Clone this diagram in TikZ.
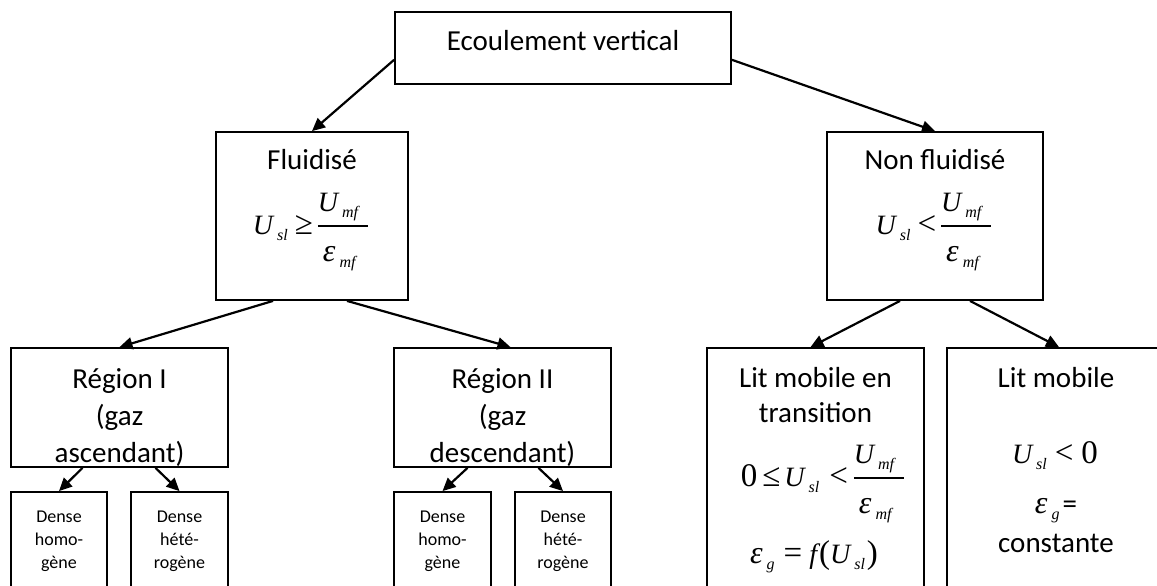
\documentclass[tikz,border=0pt]{standalone}
\usepackage{fontspec}
\setmainfont{Carlito}
\newfontfamily\tnr{Liberation Serif}
\usetikzlibrary{arrows.meta}
\newcommand\mi[1]{{\tnr\itshape #1}}
\newcommand\mr[1]{{\fontsize{33}{33}\selectfont\tnr #1}}
\newcommand\eps{{\fontsize{32}{32}\selectfont\tnr\itshape ε}}
\newcommand\sbs[1]{\kern4pt\raisebox{-6.5pt}{\fontsize{16}{16}\selectfont\tnr\itshape #1}}
\newcommand\frc[2]{%
  \setbox0=\hbox{#1}\setbox2=\hbox{#2}%
  \dimen0=\wd0 \ifdim\wd2>\dimen0 \dimen0=\wd2\fi
  \advance\dimen0 by 10pt
  \hbox{\kern1pt
    \rlap{\raise23pt\hbox to\dimen0{\box0\hss}}%
    \rlap{\raise8pt\hbox{\vrule width\dimen0 height 0.6pt depth 0.6pt}}%
    \lower27pt\hbox to\dimen0{\kern5pt\box2\hss}\kern1pt}}
\tikzset{
  box/.style={draw, line width=1.8pt, inner sep=0pt, rectangle},
  lbl/.style={anchor=base, font=\fontsize{29}{35}\selectfont, inner sep=0pt},
  sml/.style={anchor=base, font=\fontsize{18}{22}\selectfont, inner sep=0pt},
  eq/.style={anchor=base, font=\fontsize{28}{34}\selectfont, inner sep=0pt},
  arr/.style={-{Triangle[length=13pt,width=12pt]}, line width=2.2pt}
}
\begin{document}
\begin{tikzpicture}[x=1pt,y=-1pt]
\useasboundingbox[fill=white] (0,0) rectangle (1157,586);
% boxes
\node[box, minimum width=336pt, minimum height=72pt] (top) at (563,48) {};
\node[box, minimum width=192pt, minimum height=168pt] (flu) at (312,216) {};
\node[box, minimum width=216pt, minimum height=168pt] (nonflu) at (935,216) {};
\node[box, minimum width=217pt, minimum height=119pt] (r1) at (119.5,407.5) {};
\node[box, minimum width=217pt, minimum height=119pt] (r2) at (502.5,407.5) {};
\node[box, minimum width=217pt, minimum height=252pt] (lt) at (815.5,474) {};
\node[box, minimum width=218pt, minimum height=252pt] (lm) at (1056,474) {};
\node[box, minimum width=96pt, minimum height=108pt] (d1) at (59,546) {};
\node[box, minimum width=97pt, minimum height=108pt] (d2) at (179.5,546) {};
\node[box, minimum width=97pt, minimum height=108pt] (d3) at (442.5,546) {};
\node[box, minimum width=96pt, minimum height=108pt] (d4) at (563,546) {};
% texts
\node[lbl] (ttop) at (563,51) {Ecoulement vertical};
\node[lbl] (tflu) at (312,169) {Fluidisé};
\node[eq] (eflu) at (311,234) {\mi{U}\sbs{sl}\hspace{7pt}\mr{≥}\hspace{4pt}\frc{\mi{U}\sbs{mf}}{\eps\sbs{mf}}};
\node[lbl] (tnon) at (935,169) {Non fluidisé};
\node[eq] (enon) at (934,234) {\mi{U}\sbs{sl}\hspace{7pt}\mr{<}\hspace{4pt}\frc{\mi{U}\sbs{mf}}{\eps\sbs{mf}}};
\node[lbl] (tr1a) at (119.5,388) {Région I};
\node[lbl] (tr1b) at (119.5,425) {(gaz};
\node[lbl] (tr1c) at (119.5,462) {ascendant)};
\node[lbl] (tr2a) at (502.5,388) {Région II};
\node[lbl] (tr2b) at (502.5,425) {(gaz};
\node[lbl] (tr2c) at (502.5,462) {descendant)};
\node[lbl] (tlta) at (815.5,387) {Lit mobile en};
\node[lbl] (tltb) at (815.5,422) {transition};
\node[eq] (elta) at (823,486) {\mr{0}\hspace{5pt}\mr{≤}\hspace{4pt}\mi{U}\sbs{sl}\hspace{10pt}\mr{<}\hspace{5pt}\frc{\mi{U}\sbs{mf}}{\eps\sbs{mf}}};
\node[eq] (eltb) at (814,563) {\eps\sbs{g}\hspace{9pt}\mr{=}\hspace{7pt}\mi{f}\kern2pt\mr{(}\mi{U}\sbs{sl}\kern2pt\mr{)}};
\node[lbl] (tlma) at (1056,387) {Lit mobile};
\node[eq] (elma) at (1055,463) {\mi{U}\sbs{sl}\hspace{8pt}\mr{<}\hspace{8pt}\mr{0}};
\node[eq] (elmb) at (1056,513) {\eps\sbs{g}\hspace{3pt}{\fontsize{29}{35}\selectfont =}};
\node[lbl] (tlmc) at (1056,552) {constante};
\foreach \n/\x/\a/\b/\c in {d1/59/Dense/homo-/gène, d2/179.5/Dense/hété-/rogène, d3/442.5/Dense/homo-/gène, d4/563/Dense/hété-/rogène}{
  \node[sml] (\n a) at (\x,522) {\a};
  \node[sml] (\n b) at (\x,545) {\b};
  \node[sml] (\n c) at (\x,568) {\c};
}
% arrows
\draw[arr] (top.184) -- (flu.north);
\draw[arr] (top.-4) -- (nonflu.north);
\draw[arr] ([xshift=-39pt]flu.south) -- (r1.north);
\draw[arr] ([xshift=35pt]flu.south) -- ([xshift=8pt]r2.north);
\draw[arr] ([xshift=-35pt]nonflu.south) -- ([xshift=-5pt]lt.north);
\draw[arr] ([xshift=35pt]nonflu.south) -- ([xshift=3pt]lm.north);
\draw[arr] ([xshift=-37pt]r1.south) -- (d1.north);
\draw[arr] ([xshift=36pt]r1.south) -- (d2.north);
\draw[arr] ([xshift=-35pt]r2.south) -- (d3.north);
\draw[arr] ([xshift=36pt]r2.south) -- (d4.north);
\end{tikzpicture}
\end{document}
